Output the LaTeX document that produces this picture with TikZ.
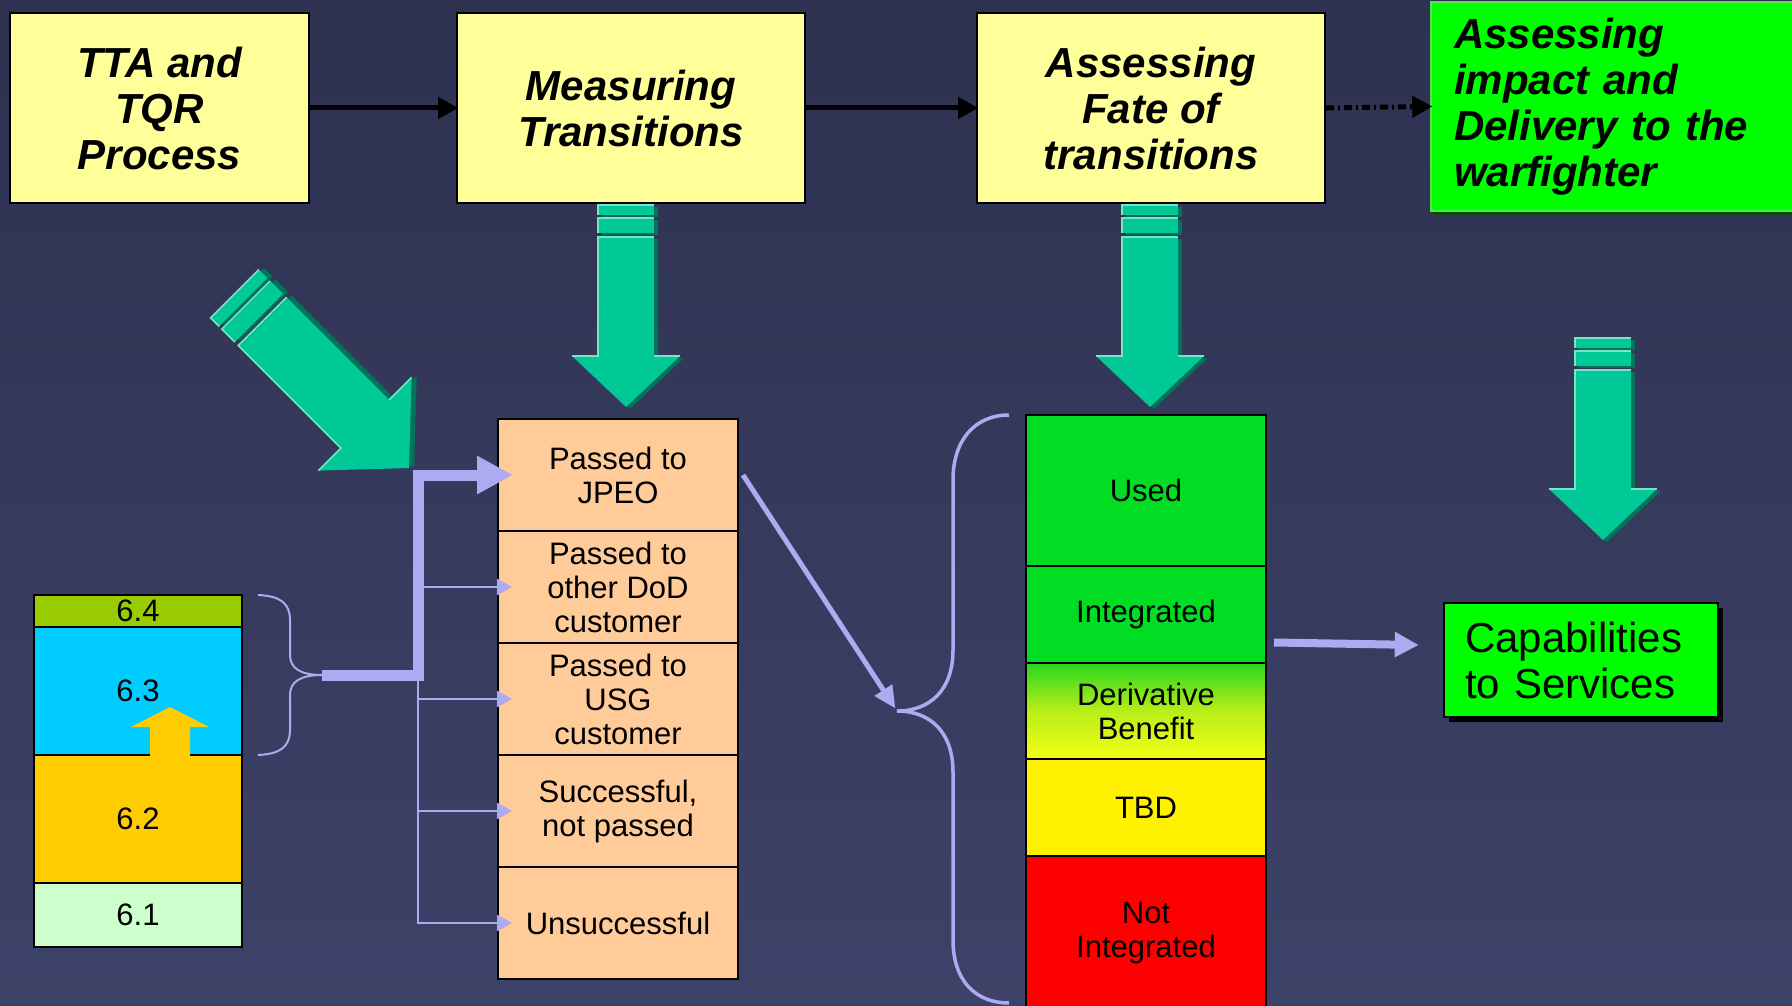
\documentclass[tikz,border=0pt]{standalone}
\usepackage{fontspec}
\setmainfont{Liberation Sans}
\usetikzlibrary{arrows.meta,calc}
\definecolor{bgtop}{RGB}{46,49,80}
\definecolor{bgbot}{RGB}{61,66,104}
\definecolor{ylw}{RGB}{255,255,153}
\definecolor{orng}{RGB}{255,204,153}
\definecolor{teal1}{RGB}{0,201,151}
\definecolor{teallt}{RGB}{120,228,196}
\definecolor{tealdk}{RGB}{0,115,90}
\definecolor{lav}{RGB}{172,170,240}
\definecolor{grn}{RGB}{0,221,34}
\definecolor{lime}{RGB}{0,255,0}
\definecolor{c64}{RGB}{153,204,0}
\definecolor{c63}{RGB}{0,204,255}
\definecolor{c62}{RGB}{255,204,0}
\definecolor{c61}{RGB}{204,255,204}
\definecolor{dgreen}{RGB}{40,215,30}
\definecolor{dyellow}{RGB}{245,255,20}
\definecolor{dmid}{RGB}{185,238,25}
\tikzset{
 topbox/.style={draw=black,line width=2pt,fill=ylw,inner sep=0pt,align=center,font=\fontsize{42}{46}\selectfont\bfseries\itshape},
 obox/.style={draw=black,line width=2pt,fill=orng,minimum width=240pt,minimum height=112pt,inner sep=0pt,align=center,font=\fontsize{31}{34}\selectfont},
 cbox/.style={draw=black,line width=2pt,minimum width=240pt,inner sep=0pt,align=center,font=\fontsize{31}{34}\selectfont},
 sbox/.style={draw=black,line width=2pt,minimum width=208pt,inner sep=0pt,font=\fontsize{31}{34}\selectfont},
 blkarrow/.style={black,line width=5pt,-{Triangle[length=20pt,width=21pt]},shorten >=-2pt},
 thickl/.style={lav,line width=11pt,line join=miter,-{Triangle[length=36pt,width=36pt]}},
 thinl/.style={lav,line width=2.5pt,-{Triangle[length=15pt,width=16pt]}},
 bracel/.style={lav,line width=2pt},
 bigbracel/.style={lav,line width=3.5pt},
 diagl/.style={lav,line width=5pt,-{Triangle[length=22pt,width=20pt]}},
 medl/.style={lav,line width=8pt,-{Triangle[length=24pt,width=24pt]}},
}
\newcommand\tealarrow[4]{%
\begin{scope}[shift={(#1,#2)},rotate=#3,scale=#4]
 \begin{scope}[shift={(4,2)}]
 \fill[tealdk] (0,0) -- (-54,-51) -- (-28,-51) -- (-28,-170) -- (28,-170) -- (28,-51) -- (54,-51) -- cycle;
 \fill[tealdk] (-28,-189) rectangle (28,-174);
 \fill[tealdk] (-28,-202) rectangle (28,-192);
 \end{scope}
 \fill[teal1] (0,0) -- (-54,-51) -- (-28,-51) -- (-28,-170) -- (28,-170) -- (28,-51) -- (54,-51) -- cycle;
 \fill[teal1] (-28,-189) rectangle (28,-174);
 \fill[teal1] (-28,-202) rectangle (28,-192);
 \draw[teallt,line width=1.5pt] (-54,-51) -- (-28,-51) -- (-28,-170) -- (28,-170);
 \draw[teallt,line width=1.5pt] (28,-51) -- (54,-51);
 \draw[teallt,line width=1.5pt] (-28,-174) -- (-28,-189) -- (28,-189);
 \draw[teallt,line width=1.5pt] (-28,-192) -- (-28,-202) -- (28,-202);
\end{scope}}
\begin{document}
\begin{tikzpicture}[x=1pt,y=-1pt]
\useasboundingbox (0,0) rectangle (1792,1006);
\shade[top color=bgtop,bottom color=bgbot] (0,0) rectangle (1792,1006);

% teal arrows
\tealarrow{626}{407}{0}{1}
\tealarrow{1150}{407}{0}{1}
\tealarrow{1603}{540}{0}{1}
\tealarrow{409}{468}{45}{1.22}

% top boxes
\node[topbox,minimum width=299pt,minimum height=190pt] (tta) at (159.5,108) {TTA and\\TQR\\Process};
\node[topbox,minimum width=348pt,minimum height=190pt] (meas) at (631,108) {Measuring\\Transitions};
\node[topbox,minimum width=348pt,minimum height=190pt] (fate) at (1151,108) {Assessing\\Fate of\\transitions};
\fill[black!70!green] (1434,6) rectangle (1798,215);
\node[draw={rgb,255:red,90;green,225;blue,90},line width=1.5pt,fill=lime,inner sep=0pt,minimum width=364pt,minimum height=209pt,text width=318pt,align=left,font=\fontsize{42}{46}\selectfont\bfseries\itshape] (impact) at (1613,106.5) {Assessing\\impact and\\Delivery to the\\warfighter};

\draw[blkarrow] (tta.east) -- (meas.west);
\draw[blkarrow] (meas.east) -- (fate.west);
\draw[blkarrow,dash pattern=on 8pt off 4pt on 2pt off 4pt] (fate.east) -- (impact.west);

% left stack
\node[sbox,fill=c64,minimum height=32pt] (s64) at (138,611) {6.4};
\node[sbox,fill=c63,minimum height=128pt] (s63) at (138,691) {6.3};
\node[sbox,fill=c62,minimum height=128pt] (s62) at (138,819) {6.2};
\node[sbox,fill=c61,minimum height=64pt] (s61) at (138,915) {6.1};
\fill[c62] (150,757) -- (150,727) -- (131,727) -- (170,707) -- (209,727) -- (190,727) -- (190,757) -- cycle;

% orange column
\node[obox] (jpeo) at (618,475) {Passed to\\JPEO};
\node[obox] (dod) at (618,587) {Passed to\\other DoD\\customer};
\node[obox] (usg) at (618,699) {Passed to\\USG\\customer};
\node[obox] (succ) at (618,811) {Successful,\\not passed};
\node[obox] (unsucc) at (618,923) {Unsuccessful};

% small brace and connectors
\coordinate (sbt) at (322,675);
\coordinate (trk) at (418,675);
\coordinate (b1) at (418,587);
\coordinate (b3) at (418,699);
\coordinate (b4) at (418,811);
\draw[bracel] (258,595) .. controls (280,596) and (290,603) .. (290,620) -- (290,655) .. controls (290,668) and (300,675) .. (sbt) .. controls (300,675) and (290,682) .. (290,695) -- (290,730) .. controls (290,747) and (280,754) .. (258,755);
\draw[thinl] (trk) |- ([xshift=15pt]unsucc.west);
\draw[thinl] (b1) -- ([xshift=15pt]dod.west);
\draw[thinl] (b3) -- ([xshift=15pt]usg.west);
\draw[thinl] (b4) -- ([xshift=15pt]succ.west);
\draw[thickl] (sbt) -- (trk) |- ([xshift=16pt]jpeo.west);

% right column
\node[cbox,fill=grn,minimum height=151pt] (used) at (1146,490.5) {Used};
\node[cbox,fill=grn,minimum height=97pt] (integ) at (1146,614.5) {Integrated};
\node[cbox,shade,top color=dgreen,bottom color=dyellow,middle color=dmid,minimum height=96pt] (deriv) at (1146,711) {Derivative\\Benefit};
\node[cbox,fill=yellow,minimum height=97pt] (tbd) at (1146,807.5) {TBD};
\node[cbox,fill=red,minimum height=154pt] (notint) at (1146,933) {Not\\Integrated};

% big brace
\coordinate (bbt) at (897,711);
\draw[bigbracel] (1009,415) .. controls (975,415) and (953,440) .. (953,480) -- (953,650) .. controls (953,690) and (930,711) .. (bbt) .. controls (930,711) and (953,732) .. (953,772) -- (953,940) .. controls (953,980) and (975,1003) .. (1009,1003);
\draw[diagl,shorten >=3pt] ([xshift=4pt]jpeo.east) -- (bbt);

% capabilities
\fill[black] (1449,608) rectangle (1723,722);
\node[draw=black,line width=2.5pt,fill=lime,inner sep=0pt,minimum width=274pt,minimum height=114pt,text width=232pt,align=left,font=\fontsize{42}{46}\selectfont] (cap) at (1581,660) {Capabilities\\to Services};
\draw[medl] ([xshift=7pt,yshift=-28pt]integ.east) -- ([xshift=-24pt,yshift=15pt]cap.west);
\end{tikzpicture}
\end{document}
